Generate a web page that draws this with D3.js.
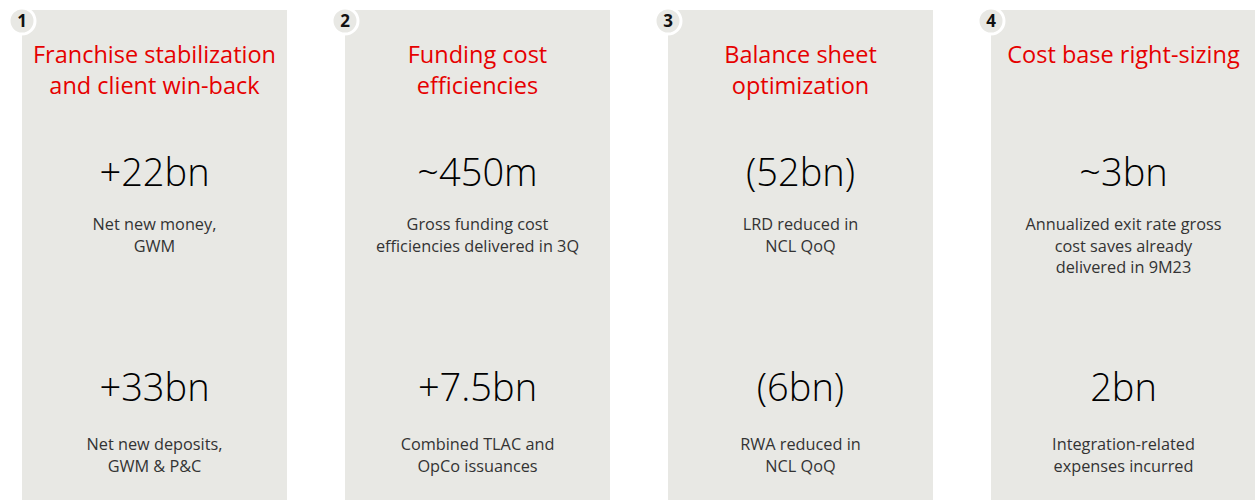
<!DOCTYPE html>
<html>
<head>
<meta charset="utf-8">
<title>Pillars</title>
<script src="https://cdn.jsdelivr.net/npm/d3@7"></script>
<style>
  body{ margin:0; background:#fff; }
  .title{ font-family:"Open Sans","Noto Sans",sans-serif; fill:#e60000; font-size:23.5px; }
  .big{ font-family:"Open Sans","Noto Sans",sans-serif; font-weight:300; fill:#000; font-size:38px; }
  .desc{ font-family:"Open Sans","Noto Sans",sans-serif; fill:#333; font-size:16.3px; }
  .num{ font-family:"Open Sans","Noto Sans",sans-serif; font-weight:700; fill:#111; font-size:17px; }
</style>
</head>
<body>
<div id="chart"></div>
<script>
// data
var ids = ["1", "2", "3", "4"];
var titles = [
  ["Franchise stabilization", "and client win-back"],
  ["Funding cost", "efficiencies"],
  ["Balance sheet", "optimization"],
  ["Cost base right-sizing"]
];
var topValues = ["+22bn", "~450m", "(52bn)", "~3bn"];
var topLabels = [
  ["Net new money,", "GWM"],
  ["Gross funding cost", "efficiencies delivered in 3Q"],
  ["LRD reduced in", "NCL QoQ"],
  ["Annualized exit rate gross", "cost saves already", "delivered in 9M23"]
];
var bottomValues = ["+33bn", "+7.5bn", "(6bn)", "2bn"];
var bottomLabels = [
  ["Net new deposits,", "GWM & P&C"],
  ["Combined TLAC and", "OpCo issuances"],
  ["RWA reduced in", "NCL QoQ"],
  ["Integration-related", "expenses incurred"]
];

var W = 1255, H = 500;
var svg = d3.select("#chart").append("svg").attr("width", W).attr("height", H);

var x = d3.scaleBand().domain(ids).range([22, 1256]).paddingInner(58/323).paddingOuter(0);
var bw = x.bandwidth();

var panels = svg.selectAll(".panel").data(ids).enter()
  .append("g").attr("class", "panel")
  .attr("transform", function(d){ return "translate(" + Math.round(x(d)) + ",0)"; });

panels.append("rect")
  .attr("x", 0).attr("y", 10)
  .attr("width", bw).attr("height", H - 10)
  .attr("fill", "#e8e8e4");

// number badge
panels.append("circle")
  .attr("cx", 0).attr("cy", 21).attr("r", 13)
  .attr("fill", "#e8e8e4").attr("stroke", "#fff").attr("stroke-width", 3);
panels.append("text").attr("class", "num")
  .attr("x", 0).attr("y", 27).attr("text-anchor", "middle")
  .text(function(d){ return d; });

function lines(g, cls, arr, y0, dy){
  g.each(function(d, i){
    var t = d3.select(this).append("text").attr("class", cls).attr("text-anchor", "middle");
    arr[i].forEach(function(s, k){
      t.append("tspan").attr("x", bw/2).attr("y", y0 + k*dy).text(s);
    });
  });
}

lines(panels, "title", titles, 63, 31);

panels.append("text").attr("class", "big")
  .attr("x", bw/2).attr("y", 186).attr("text-anchor", "middle")
  .text(function(d, i){ return topValues[i]; });
lines(panels, "desc", topLabels, 230, 21.5);

panels.append("text").attr("class", "big")
  .attr("x", bw/2).attr("y", 401).attr("text-anchor", "middle")
  .text(function(d, i){ return bottomValues[i]; });
lines(panels, "desc", bottomLabels, 450, 21.5);
</script>
</body>
</html>
